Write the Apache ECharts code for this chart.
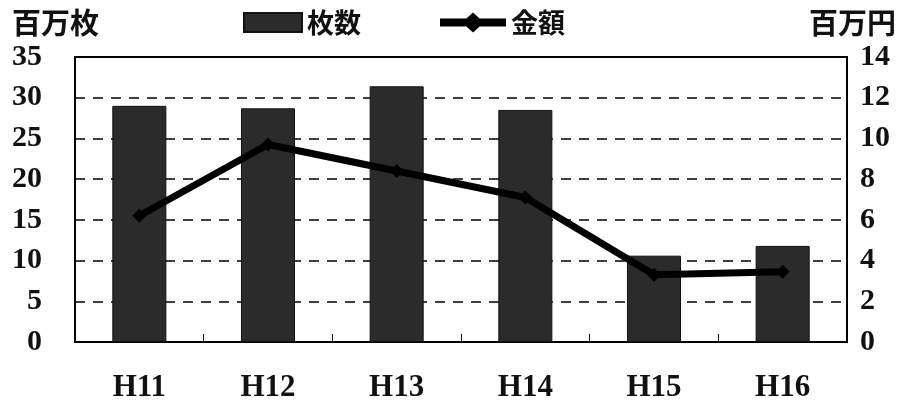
<!DOCTYPE html>
<html>
<head>
<meta charset="utf-8">
<script src="https://cdn.jsdelivr.net/npm/echarts@6/dist/echarts.min.js"></script>
<style>
  html, body { margin: 0; padding: 0; background: #fff; }
  #chart { width: 905px; height: 405px; }
</style>
</head>
<body>
<div id="chart"></div>
<script>
// 年度
const categories = ['H11', 'H12', 'H13', 'H14', 'H15', 'H16'];
// 枚数（百万枚）
const maisu = [29.0, 28.7, 31.4, 28.5, 10.6, 11.8];
// 金額（百万円）
const kingaku = [6.2, 9.7, 8.4, 7.1, 3.3, 3.45];
const leftTicks = [0, 35, 5];
const rightTicks = [0, 14, 2];

const serif = '"Liberation Serif", "DejaVu Serif", serif';
const cjk = '"Noto Sans CJK JP", "Noto Sans", sans-serif';
const legendText = { fontFamily: cjk, fontSize: 27, fontWeight: 'bold', color: '#111' };
// 凡例用：太線＋ひし形
const lineDiamondIcon = 'path://M0,6 L26.4,6 L33,0 L39.6,6 L66,6 L66,14 L39.6,14 L33,20 L26.4,14 L0,14 Z';

const chart = echarts.init(document.getElementById('chart'));
const option = {
    animation: false,
    backgroundColor: '#fff',
    legend: [
        {
            top: 4,
            left: 238,
            itemWidth: 58,
            itemHeight: 19,
            textStyle: legendText,
            data: [{ name: '枚数', icon: 'rect' }]
        },
        {
            top: 4,
            left: 435,
            itemWidth: 66,
            itemHeight: 20,
            textStyle: legendText,
            data: [{ name: '金額', icon: lineDiamondIcon }]
        }
    ],
    grid: {
        left: 75,
        right: 58,
        top: 57,
        bottom: 63,
        show: true,
        borderColor: '#000',
        borderWidth: 2
    },
    xAxis: {
        type: 'category',
        data: categories,
        axisLine: { lineStyle: { color: '#000', width: 2 } },
        axisTick: { show: true, inside: true, length: 8, lineStyle: { color: '#000' } },
        axisLabel: { margin: 30, fontFamily: serif, fontSize: 31, fontWeight: 'bold', color: '#111' }
    },
    yAxis: [
        {
            type: 'value',
            min: leftTicks[0], max: leftTicks[1], interval: leftTicks[2],
            name: '百万枚',
            nameLocation: 'end',
            nameGap: 20,
            nameTextStyle: { fontFamily: cjk, fontSize: 29, fontWeight: 'bold', color: '#111', align: 'left', padding: [0, 0, 0, -63] },
            axisLine: { show: false },
            axisTick: { show: false },
            axisLabel: { margin: 33, fontFamily: serif, fontSize: 30, fontWeight: 'bold', color: '#111' },
            splitLine: { lineStyle: { color: '#000', type: [10, 8], width: 1.5 } }
        },
        {
            type: 'value',
            min: rightTicks[0], max: rightTicks[1], interval: rightTicks[2],
            name: '百万円',
            nameLocation: 'end',
            nameGap: 20,
            nameTextStyle: { fontFamily: cjk, fontSize: 29, fontWeight: 'bold', color: '#111', align: 'right', padding: [0, -49, 0, 0] },
            axisLine: { show: false },
            axisTick: { show: false },
            axisLabel: { margin: 13, fontFamily: serif, fontSize: 30, fontWeight: 'bold', color: '#111' },
            splitLine: { show: false }
        }
    ],
    series: [
        {
            name: '枚数',
            type: 'bar',
            data: maisu,
            yAxisIndex: 0,
            barWidth: '42%',
            itemStyle: { color: '#2b2b2b', borderColor: '#111', borderWidth: 1 }
        },
        {
            name: '金額',
            type: 'line',
            data: kingaku,
            yAxisIndex: 1,
            symbol: 'diamond',
            symbolSize: 14,
            itemStyle: { color: '#000' },
            lineStyle: { color: '#000', width: 7 }
        }
    ]
};
chart.setOption(option);
</script>
</body>
</html>
